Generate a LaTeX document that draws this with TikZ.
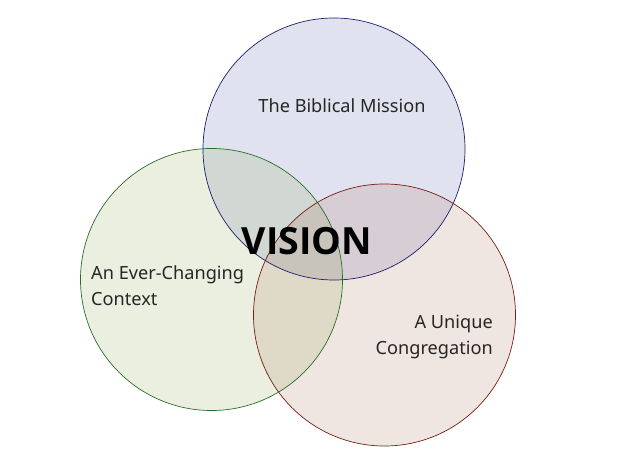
\documentclass[tikz,border=0pt]{standalone}
\usepackage{fontspec}
\setmainfont{Noto Sans}
\newfontfamily\visionfont{Open Sans}
\usetikzlibrary{positioning}
\definecolor{missionblue}{RGB}{47,60,150}
\definecolor{contextgreen}{RGB}{120,150,50}
\definecolor{congbrown}{RGB}{155,90,55}
\definecolor{missionline}{RGB}{30,30,110}
\definecolor{contextline}{RGB}{40,110,40}
\definecolor{congline}{RGB}{120,30,20}
\newcommand{\circMission}{(334,149) circle (3.93cm)}
\newcommand{\circContext}{(211.5,279.5) circle (3.93cm)}
\newcommand{\circCong}{(384.5,315) circle (3.93cm)}

\begin{document}
\begin{tikzpicture}[x=0.03cm,y=-0.03cm,
    lbl/.style={font=\fontsize{15.5}{22}\selectfont,text=black!85,inner sep=0pt}]
    \useasboundingbox (0,0) rectangle (640,460);
    % the three transparent discs
    \fill[missionblue,fill opacity=0.15] \circMission;
    \fill[contextgreen,fill opacity=0.15] \circContext;
    \fill[congbrown,fill opacity=0.15] \circCong;
    % outlines
    \draw[missionline,line width=0.6pt] \circMission;
    \draw[contextline,line width=0.6pt] \circContext;
    \draw[congline,line width=0.6pt] \circCong;
    % labels
    \node[lbl] (mission) at (342,106) {The Biblical Mission};
    \node[lbl,anchor=west,align=left] (context) at (91,286) {An Ever-Changing\\Context};
    \node[lbl,anchor=east,align=right] (cong) at (493,337) {A Unique\\Congregation};
    \node[font=\visionfont\bfseries\fontsize{32}{36}\selectfont,inner sep=0pt] (vision) at (307,241) {VISION};
\end{tikzpicture}
\end{document}
